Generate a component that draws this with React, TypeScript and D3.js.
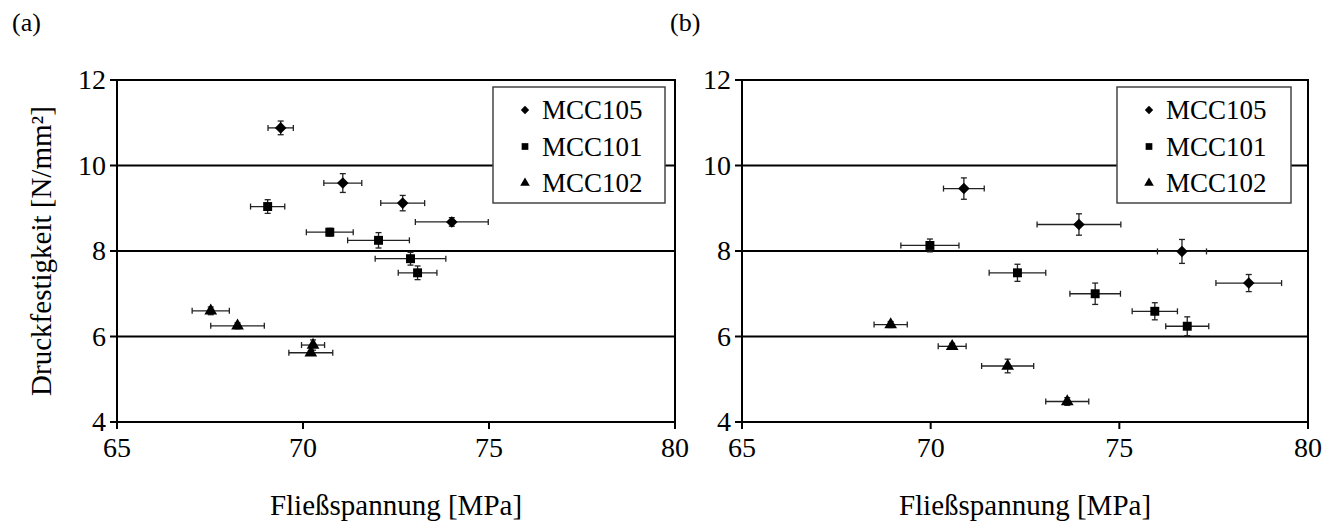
import React from "react";
import * as d3 from "d3";

type Pt = { x: number; y: number; ex: number; ey: number };

const xTicks = [65, 70, 75, 80];
const yTicks = [4, 6, 8, 10, 12];
const seriesNames = ["MCC105", "MCC101", "MCC102"];
const markerTypes = ["diamond", "square", "triangle"];

// Panel (a)
const aMCC105: Pt[] = [
  { x: 69.4, y: 10.88, ex: 0.34, ey: 0.16 },
  { x: 71.07, y: 9.59, ex: 0.51, ey: 0.22 },
  { x: 72.68, y: 9.12, ex: 0.59, ey: 0.18 },
  { x: 74.0, y: 8.68, ex: 0.98, ey: 0.1 },
];
const aMCC101: Pt[] = [
  { x: 69.05, y: 9.04, ex: 0.46, ey: 0.16 },
  { x: 70.72, y: 8.44, ex: 0.63, ey: 0.09 },
  { x: 72.03, y: 8.25, ex: 0.83, ey: 0.18 },
  { x: 72.89, y: 7.82, ex: 0.95, ey: 0.15 },
  { x: 73.08, y: 7.49, ex: 0.52, ey: 0.16 },
];
const aMCC102: Pt[] = [
  { x: 67.52, y: 6.6, ex: 0.5, ey: 0.09 },
  { x: 68.24, y: 6.25, ex: 0.72, ey: 0.07 },
  { x: 70.27, y: 5.8, ex: 0.31, ey: 0.12 },
  { x: 70.21, y: 5.62, ex: 0.59, ey: 0.05 },
];

// Panel (b)
const bMCC105: Pt[] = [
  { x: 70.88, y: 9.46, ex: 0.54, ey: 0.25 },
  { x: 73.93, y: 8.62, ex: 1.11, ey: 0.25 },
  { x: 76.66, y: 7.99, ex: 0.65, ey: 0.28 },
  { x: 78.43, y: 7.25, ex: 0.87, ey: 0.2 },
];
const bMCC101: Pt[] = [
  { x: 69.98, y: 8.13, ex: 0.77, ey: 0.15 },
  { x: 72.3, y: 7.49, ex: 0.75, ey: 0.2 },
  { x: 74.36, y: 7.0, ex: 0.67, ey: 0.25 },
  { x: 75.94, y: 6.59, ex: 0.6, ey: 0.2 },
  { x: 76.8, y: 6.24, ex: 0.57, ey: 0.22 },
];
const bMCC102: Pt[] = [
  { x: 68.94, y: 6.28, ex: 0.44, ey: 0.07 },
  { x: 70.57, y: 5.77, ex: 0.37, ey: 0.07 },
  { x: 72.04, y: 5.31, ex: 0.69, ey: 0.16 },
  { x: 73.62, y: 4.48, ex: 0.57, ey: 0.09 },
];

const FONT = "Liberation Serif";

function symbolPath(type: string, size: number) {
  const t =
    type === "diamond" ? d3.symbolDiamond2 : type === "square" ? d3.symbolSquare : d3.symbolTriangle;
  return d3.symbol().type(t).size(size)() as string;
}

function Panel(props: {
  left: number;
  right: number;
  top: number;
  bottom: number;
  label: string;
  labelX: number;
  data: Pt[][];
  legendX: number;
  legendW: number;
  showYTitle: boolean;
}) {
  const { left, right, top, bottom, data } = props;
  const x = d3.scaleLinear().domain([65, 80]).range([left, right]);
  const y = d3.scaleLinear().domain([4, 12]).range([bottom, top]);
  const sizes = [85, 80, 70];
  return (
    <g>
      <text x={props.labelX} y={31} fontFamily={FONT} fontSize={26}>
        {props.label}
      </text>
      {yTicks
        .filter((t) => t !== 4 && t !== 12)
        .map((t) => (
          <line key={"g" + t} x1={left} x2={right} y1={y(t)} y2={y(t)} stroke="#000" strokeWidth={2} />
        ))}
      <rect x={left} y={top} width={right - left} height={bottom - top} fill="none" stroke="#000" strokeWidth={2} />
      {yTicks.map((t) => (
        <g key={"yt" + t}>
          <line x1={left - 7} x2={left} y1={y(t)} y2={y(t)} stroke="#000" strokeWidth={2} />
          <text x={left - 11} y={y(t)} dy="0.33em" textAnchor="end" fontFamily={FONT} fontSize={28}>
            {t}
          </text>
        </g>
      ))}
      {xTicks.map((t) => (
        <g key={"xt" + t}>
          <line x1={x(t)} x2={x(t)} y1={bottom} y2={bottom + 7} stroke="#000" strokeWidth={2} />
          <text x={x(t)} y={bottom + 35} textAnchor="middle" fontFamily={FONT} fontSize={28}>
            {t}
          </text>
        </g>
      ))}
      <text x={(left + right) / 2} y={515} textAnchor="middle" fontFamily={FONT} fontSize={29}>
        Fließspannung [MPa]
      </text>
      {props.showYTitle && (
        <text
          transform={`translate(51, ${(top + bottom) / 2}) rotate(-90)`}
          textAnchor="middle"
          fontFamily={FONT}
          fontSize={29}
        >
          Druckfestigkeit [N/mm²]
        </text>
      )}
      {data.map((series, si) =>
        series.map((p, i) => {
          const cx = x(p.x);
          const cy = y(p.y);
          const x0 = x(p.x - p.ex);
          const x1 = x(p.x + p.ex);
          const y0 = y(p.y - p.ey);
          const y1 = y(p.y + p.ey);
          return (
            <g key={si + "-" + i}>
              <line x1={x0} x2={x1} y1={cy} y2={cy} stroke="#222" strokeWidth={1.3} />
              <line x1={x0} x2={x0} y1={cy - 3} y2={cy + 3} stroke="#222" strokeWidth={1.3} />
              <line x1={x1} x2={x1} y1={cy - 3} y2={cy + 3} stroke="#222" strokeWidth={1.3} />
              <line x1={cx} x2={cx} y1={y0} y2={y1} stroke="#222" strokeWidth={1.3} />
              <line x1={cx - 3} x2={cx + 3} y1={y0} y2={y0} stroke="#222" strokeWidth={1.3} />
              <line x1={cx - 3} x2={cx + 3} y1={y1} y2={y1} stroke="#222" strokeWidth={1.3} />
              <path d={symbolPath(markerTypes[si], sizes[si])} transform={`translate(${cx},${cy})`} fill="#000" />
            </g>
          );
        })
      )}
      <rect x={props.legendX} y={87} width={props.legendW} height={116} fill="#fff" stroke="#444" strokeWidth={1.5} />
      {seriesNames.map((n, i) => (
        <g key={n}>
          <path
            d={symbolPath(markerTypes[i], [45, 45, 40][i])}
            transform={`translate(${props.legendX + 32},${110 + i * 36.5})`}
            fill="#000"
          />
          <text x={props.legendX + 49} y={110 + i * 36.5} dy="0.34em" fontFamily={FONT} fontSize={27}>
            {n}
          </text>
        </g>
      ))}
    </g>
  );
}

export default function App() {
  return (
    <svg
      width={1327}
      height={526}
      style={{ position: "absolute", left: 0, top: 0, background: "#fff" }}
    >
      <rect width={1327} height={526} fill="#fff" />
      <Panel
        left={117}
        right={675}
        top={80}
        bottom={422}
        label="(a)"
        labelX={12}
        data={[aMCC105, aMCC101, aMCC102]}
        legendX={493}
        legendW={172}
        showYTitle={true}
      />
      <Panel
        left={742}
        right={1308}
        top={80}
        bottom={422}
        label="(b)"
        labelX={670}
        data={[bMCC105, bMCC101, bMCC102]}
        legendX={1117}
        legendW={174}
        showYTitle={false}
      />
    </svg>
  );
}
